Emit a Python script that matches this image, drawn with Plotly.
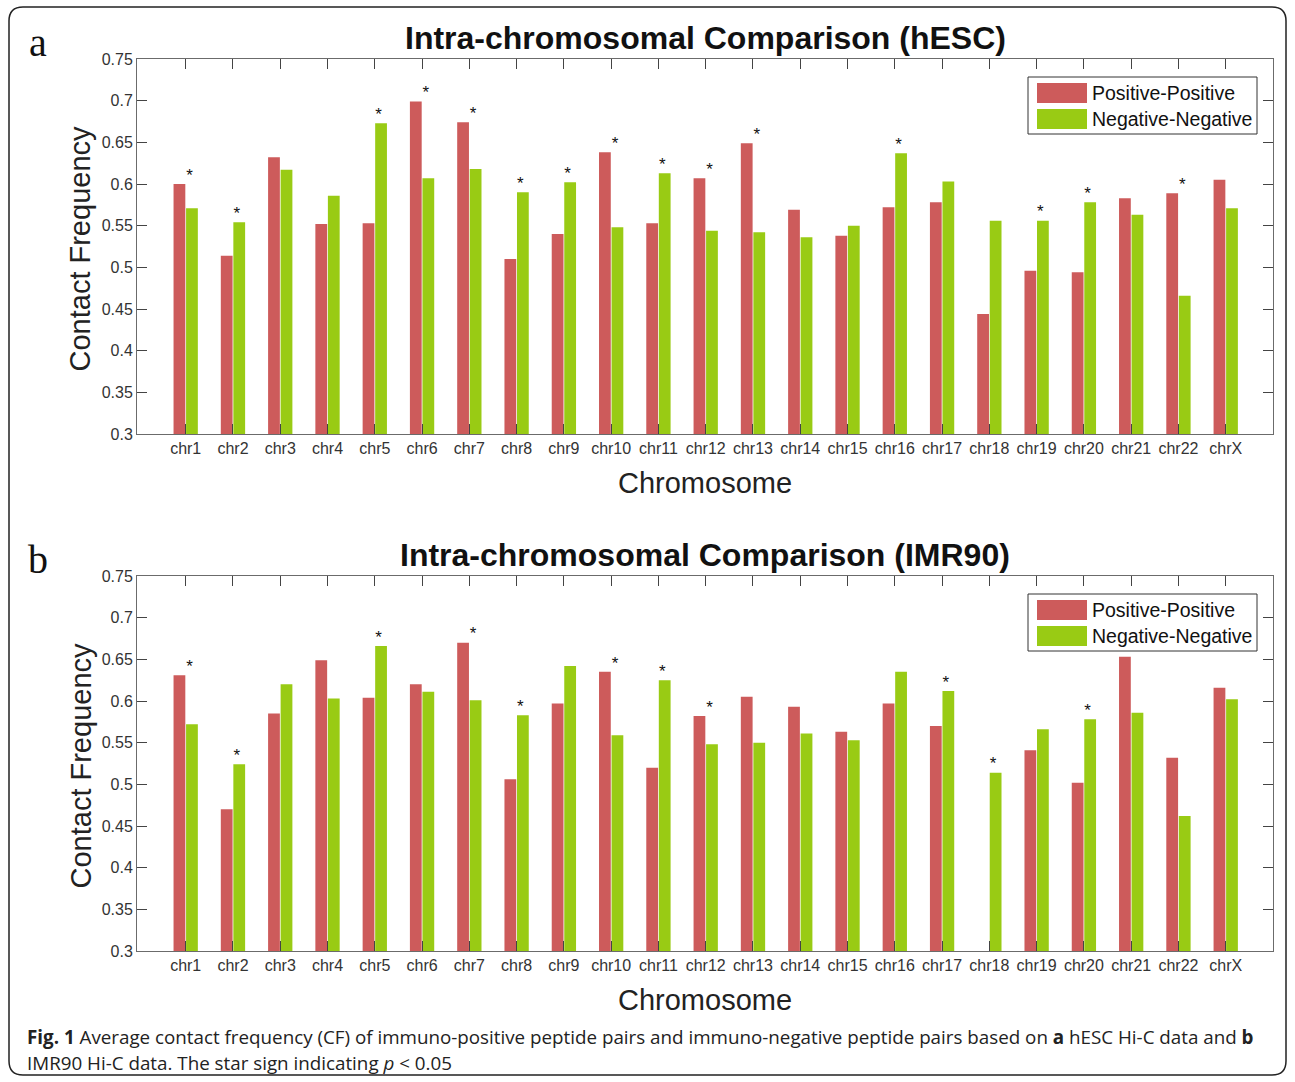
import plotly.graph_objects as go

chromosomes = ["chr1", "chr2", "chr3", "chr4", "chr5", "chr6", "chr7", "chr8", "chr9", "chr10",
               "chr11", "chr12", "chr13", "chr14", "chr15", "chr16", "chr17", "chr18", "chr19",
               "chr20", "chr21", "chr22", "chrX"]

hesc_pos = [0.600, 0.514, 0.632, 0.552, 0.553, 0.699, 0.674, 0.510, 0.540, 0.638, 0.553, 0.607,
            0.649, 0.569, 0.538, 0.572, 0.578, 0.444, 0.496, 0.494, 0.583, 0.589, 0.605]
hesc_neg = [0.571, 0.554, 0.617, 0.586, 0.673, 0.607, 0.618, 0.590, 0.602, 0.548, 0.613, 0.544,
            0.542, 0.536, 0.550, 0.637, 0.603, 0.556, 0.556, 0.578, 0.563, 0.466, 0.571]
hesc_stars = ["chr1", "chr2", "chr5", "chr6", "chr7", "chr8", "chr9", "chr10", "chr11", "chr12",
              "chr13", "chr16", "chr19", "chr20", "chr22"]

imr90_pos = [0.631, 0.470, 0.585, 0.649, 0.604, 0.620, 0.670, 0.506, 0.597, 0.635, 0.520, 0.582,
             0.605, 0.593, 0.563, 0.597, 0.570, 0.300, 0.541, 0.502, 0.653, 0.532, 0.616]
imr90_neg = [0.572, 0.524, 0.620, 0.603, 0.666, 0.611, 0.601, 0.583, 0.642, 0.559, 0.625, 0.548,
             0.550, 0.561, 0.553, 0.635, 0.612, 0.514, 0.566, 0.578, 0.586, 0.462, 0.602]
imr90_stars = ["chr1", "chr2", "chr5", "chr7", "chr8", "chr10", "chr11", "chr12", "chr17",
               "chr18", "chr20"]

series_names = ["Positive-Positive", "Negative-Negative"]

y_ticks = [0.3, 0.35, 0.4, 0.45, 0.5, 0.55, 0.6, 0.65, 0.7, 0.75]
y_tick_labels = ["0.3", "0.35", "0.4", "0.45", "0.5", "0.55", "0.6", "0.65", "0.7", "0.75"]

RED = "#CD5B5B"
GREEN = "#99CB14"
COLORS = [RED, GREEN]
W, H = 1295, 1082
FONT = "Liberation Sans, Arial, sans-serif"

x_idx = list(range(1, len(chromosomes) + 1))

fig = go.Figure()

panels = [
    ("x", "y", hesc_pos, hesc_neg, hesc_stars, 59, 434, "Intra-chromosomal Comparison (hESC)", "a"),
    ("x2", "y2", imr90_pos, imr90_neg, imr90_stars, 576, 951, "Intra-chromosomal Comparison (IMR90)", "b"),
]


def px(x):
    return x / W


def py(y):
    return 1 - y / H


for xa, ya, pos, neg, stars, top, bot, title, letter in panels:
    for name, vals, col in zip(series_names, [pos, neg], COLORS):
        fig.add_trace(go.Bar(x=x_idx, y=vals, name=name, marker_color=col,
                             marker_line_width=0, xaxis=xa, yaxis=ya, showlegend=False))
    sx, sy = [], []
    for i, c in enumerate(chromosomes):
        if c in stars:
            sx.append(x_idx[i] + 0.08)
            sy.append(max(pos[i], neg[i]) + 0.009)
    fig.add_trace(go.Scatter(x=sx, y=sy, mode="text", text=["*"] * len(sx),
                             textfont=dict(size=17, color="#111", family=FONT),
                             textposition="middle center", showlegend=False,
                             hoverinfo="skip", xaxis=xa, yaxis=ya, cliponaxis=False))
    fig.add_annotation(text="<b>%s</b>" % title, x=px(705), y=py(top - 21), xref="paper", yref="paper",
                       showarrow=False, font=dict(size=32, color="#111", family=FONT),
                       xanchor="center", yanchor="middle")
    fig.add_annotation(text="Contact Frequency", x=px(80), y=py((top + bot) / 2 + 2), xref="paper",
                       yref="paper", showarrow=False, textangle=-90,
                       font=dict(size=29, color="#222", family=FONT), xanchor="center", yanchor="middle")
    fig.add_annotation(text="Chromosome", x=px(705), y=py(bot + 49), xref="paper", yref="paper",
                       showarrow=False, font=dict(size=29, color="#222", family=FONT),
                       xanchor="center", yanchor="middle")
    fig.add_annotation(text=letter, x=px(38), y=py(top - 17), xref="paper", yref="paper",
                       showarrow=False, font=dict(size=40, color="#111", family="Liberation Serif, serif"),
                       xanchor="center", yanchor="middle")

    # legend box (MATLAB style)
    ly = top + 18
    fig.add_shape(type="rect", xref="paper", yref="paper", x0=px(1028), x1=px(1257),
                  y0=py(ly), y1=py(ly + 57), line=dict(color="#333", width=1), fillcolor="white")
    for k, (name, col) in enumerate(zip(series_names, COLORS)):
        cy = ly + 16 + k * 26
        fig.add_shape(type="rect", xref="paper", yref="paper", x0=px(1037), x1=px(1087),
                      y0=py(cy + 10), y1=py(cy - 10), line=dict(width=0), fillcolor=col)
        fig.add_annotation(text=name, x=px(1090), y=py(cy), xref="paper", yref="paper",
                           showarrow=False, xanchor="left", yanchor="middle",
                           font=dict(size=19.5, color="#111", family=FONT))

axis_common = dict(showline=True, linecolor="#6b6b6b", linewidth=1, mirror="ticks",
                   ticks="inside", tickcolor="#444", ticklen=10, tickwidth=1,
                   showgrid=False, zeroline=False, automargin=False,
                   tickfont=dict(size=16, color="#333", family=FONT))

x_dom = [px(137), px(1273)]
fig.update_layout(
    template="none",
    width=W, height=H, margin=dict(l=0, r=0, t=0, b=0, pad=0, autoexpand=False),
    paper_bgcolor="white", plot_bgcolor="white",
    barmode="group", bargap=0.47, bargroupgap=0.06,
    xaxis=dict(domain=x_dom, range=[-0.03, 24.0], tickvals=x_idx, ticktext=chromosomes,
               anchor="y", **axis_common),
    yaxis=dict(domain=[py(434), py(59)], range=[0.3, 0.75], tickvals=y_ticks,
               ticktext=y_tick_labels, anchor="x", **axis_common),
    xaxis2=dict(domain=x_dom, range=[-0.03, 24.0], tickvals=x_idx, ticktext=chromosomes,
                anchor="y2", **axis_common),
    yaxis2=dict(domain=[py(951), py(576)], range=[0.3, 0.75], tickvals=y_ticks,
                ticktext=y_tick_labels, anchor="x2", **axis_common),
    showlegend=False,
)

x0, y0, x1, y1, r = px(9), py(1075), px(1286), py(7), 14
rx, ry = r / W, r / H
path = (f"M {x0 + rx} {y1} L {x1 - rx} {y1} Q {x1} {y1} {x1} {y1 - ry} "
        f"L {x1} {y0 + ry} Q {x1} {y0} {x1 - rx} {y0} L {x0 + rx} {y0} "
        f"Q {x0} {y0} {x0} {y0 + ry} L {x0} {y1 - ry} Q {x0} {y1} {x0 + rx} {y1} Z")
fig.add_shape(type="path", path=path, xref="paper", yref="paper",
              line=dict(color="#222", width=1.5), fillcolor="rgba(0,0,0,0)", layer="below")

cap_font = dict(size=18.8, color="#222", family="Open Sans, sans-serif")
fig.add_annotation(text="<b>Fig. 1</b> Average contact frequency (CF) of immuno-positive peptide pairs and "
                        "immuno-negative peptide pairs based on <b>a</b> hESC Hi-C data and <b>b</b>",
                   x=px(25), y=py(1037), xref="paper", yref="paper", showarrow=False,
                   xanchor="left", yanchor="middle", font=cap_font)
fig.add_annotation(text="IMR90 Hi-C data. The star sign indicating <i>p</i> &lt; 0.05",
                   x=px(25), y=py(1063), xref="paper", yref="paper", showarrow=False,
                   xanchor="left", yanchor="middle", font=cap_font)

post = ("document.documentElement.style.margin='0';document.documentElement.style.overflow='hidden';"
        "document.body.style.margin='0';document.body.style.padding='0';document.body.style.overflow='hidden';"
        "var gd=document.getElementById('{plot_id}');gd.style.position='fixed';"
        "gd.style.top='0px';gd.style.left='0px';")
fig.write_html("out.html", post_script=post, config={"displayModeBar": False})
